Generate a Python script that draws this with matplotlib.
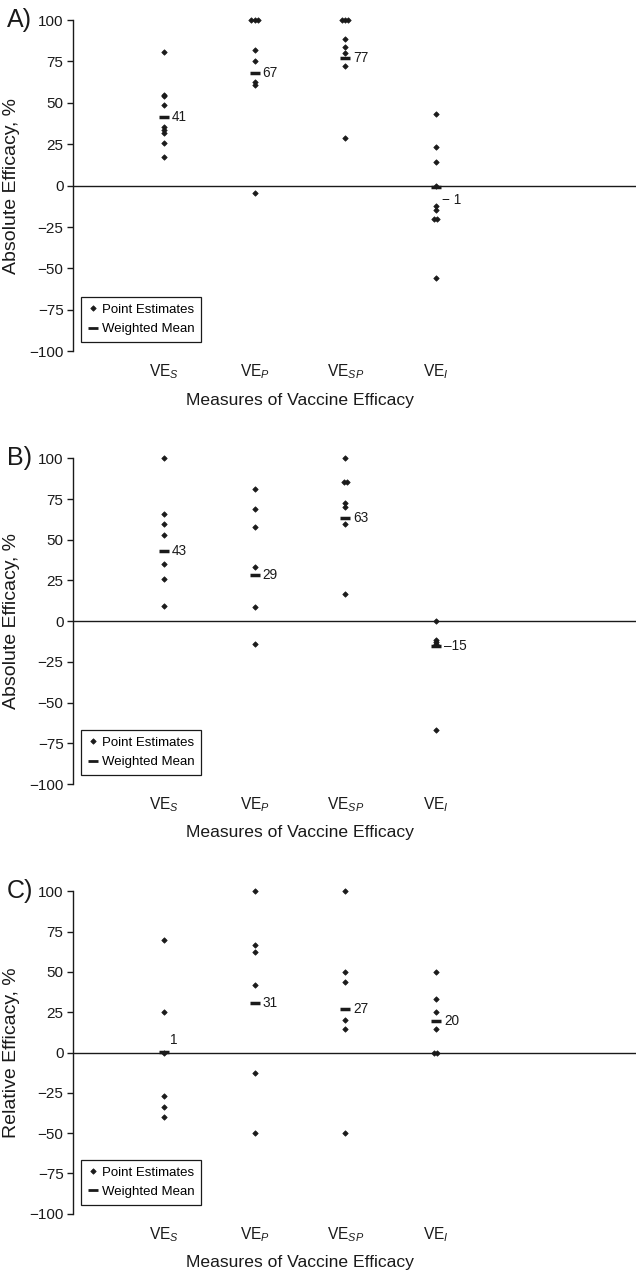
import matplotlib
matplotlib.use("Agg")
import matplotlib.pyplot as plt
from matplotlib.lines import Line2D
from matplotlib.transforms import blended_transform_factory
from collections import Counter

plt.rcParams['font.family'] = ['Liberation Sans', 'DejaVu Sans']
plt.rcParams['mathtext.fontset'] = 'custom'
plt.rcParams['mathtext.rm'] = 'Liberation Sans'
plt.rcParams['mathtext.it'] = 'Liberation Sans:italic'

# ---------------- data ----------------
categories = ['VE$_{\\mathit{S}}$', 'VE$_{\\mathit{P}}$', 'VE$_{\\mathit{SP}}$', 'VE$_{\\mathit{I}}$']
y_ticks = [-100, -75, -50, -25, 0, 25, 50, 75, 100]
y_tick_labels = ['\u2212100', '\u221275', '\u221250', '\u221225', '0', '25', '50', '75', '100']

# Panel A: absolute efficacy
a_ves = [80.7, 55, 54, 48.7, 35.4, 33.6, 31.6, 26, 17.1]
a_vep = [100, 100, 100, 82, 75, 62.4, 61, -4.2]
a_vesp = [100, 100, 100, 88.5, 83.7, 80.3, 72, 28.8]
a_vei = [43.5, 23.3, 14.3, 0, -12, -14.4, -20, -20, -55.6]
a_means = [41.2, 67.8, 77, -1]
a_mean_labels = ['41', '67', '77', '\u2212 1']

# Panel B: absolute efficacy
b_ves = [100, 65.6, 59.8, 52.7, 34.8, 25.6, 9]
b_vep = [80.9, 68.8, 57.9, 33.3, 8.8, -14.3]
b_vesp = [100, 85.6, 85.6, 72.7, 70.3, 59.8, 16.6]
b_vei = [0, -11.5, -12.9, -14.3, -66.8]
b_means = [43.2, 28.6, 63.1, -15.2]
b_mean_labels = ['43', '29', '63', '\u201315']

# Panel C: relative efficacy
c_ves = [70, 25, 0, -27, -33.5, -40]
c_vep = [100, 66.9, 62.6, 41.7, -12.6, -50]
c_vesp = [100, 50, 43.8, 20, 14.3, -50]
c_vei = [50, 33.3, 25, 14.3, 0, 0]
c_means = [0.6, 30.6, 26.9, 19.6]
c_mean_labels = ['1', '31', '27', '20']

panels = [
    dict(tag='A)', ylabel='Absolute Efficacy, %', groups=[a_ves, a_vep, a_vesp, a_vei],
         means=a_means, labels=a_mean_labels, rect=(20, 351.3),
         label_dy={3: -7.5}),
    dict(tag='B)', ylabel='Absolute Efficacy, %', groups=[b_ves, b_vep, b_vesp, b_vei],
         means=b_means, labels=b_mean_labels, rect=(458.3, 784.0),
         label_dy={}),
    dict(tag='C)', ylabel='Relative Efficacy, %', groups=[c_ves, c_vep, c_vesp, c_vei],
         means=c_means, labels=c_mean_labels, rect=(891.3, 1213.7),
         label_dy={0: 7}),
]

W, H = 636, 1277
fig = plt.figure(figsize=(W / 100, H / 100), dpi=100)
ink = '#1a1a1a'

ax_left_px = 73.3
for p in panels:
    top_px, bot_px = p['rect']
    ax = fig.add_axes([ax_left_px / W, 1 - bot_px / H, 1 - ax_left_px / W, (bot_px - top_px) / H])
    ax.set_xlim(0, 6.21)
    ax.set_ylim(-100, 100)
    for s in ['top', 'right', 'bottom']:
        ax.spines[s].set_visible(False)
    ax.spines['left'].set_linewidth(1.0)
    ax.spines['left'].set_color(ink)
    ax.axhline(0, color=ink, lw=1.0, zorder=1)

    # points (exact duplicates spread slightly sideways)
    for i, vals in enumerate(p['groups']):
        cnt = Counter(vals)
        seen = Counter()
        xs = []
        for v in vals:
            n = cnt[v]
            k = seen[v]
            seen[v] += 1
            xs.append(i + 1 + (k - (n - 1) / 2) * 0.035)
        ax.plot(xs, vals, linestyle='none', marker='D', ms=2.8, mew=0.5,
                color=ink, zorder=3, clip_on=False)

    # weighted means
    cats_x = [i + 1 for i in range(len(p['means']))]
    ax.plot(cats_x, p['means'], linestyle='none', marker='_', ms=7, mew=2.5,
            color=ink, zorder=4, clip_on=False)
    for i, (m, lab) in enumerate(zip(p['means'], p['labels'])):
        dy = p['label_dy'].get(i, 0)
        dx = 0.09 if dy == 0 else 0.07
        ax.text(i + 1 + dx, m + dy, lab, ha='left', va='center',
                fontsize=9.8, color=ink)

    ax.set_yticks(y_ticks)
    ax.set_yticklabels(y_tick_labels)
    ax.tick_params(axis='y', length=4.5, width=1.0, pad=2.5, labelsize=11,
                   colors=ink, direction='out')
    ax.set_xticks(cats_x)
    ax.set_xticklabels(categories)
    ax.tick_params(axis='x', length=0, pad=8, labelsize=11.2, colors=ink)

    ax.set_ylabel(p['ylabel'], fontsize=14, color=ink)
    ax.yaxis.set_label_coords((20 - ax_left_px) / (W - ax_left_px), 0.5)

    tr = blended_transform_factory(ax.transData, ax.transAxes)
    ax.text(2.5, -49 / (bot_px - top_px), 'Measures of Vaccine Efficacy',
            transform=tr, ha='center', va='center', fontsize=12.6, color=ink)

    ax.text((7 - ax_left_px) / (W - ax_left_px), 1.0, p['tag'], transform=ax.transAxes,
            ha='left', va='center', fontsize=18, color=ink)

    handles = [
        Line2D([], [], linestyle='none', marker='D', ms=2.8, mew=0.5, color=ink),
        Line2D([], [], linestyle='none', marker='_', ms=7, mew=2.0, color=ink),
    ]
    leg = ax.legend(handles, ['Point Estimates', 'Weighted Mean'],
                    loc='lower left', bbox_to_anchor=(0.0137, 0.028),
                    fontsize=9.5, frameon=True, fancybox=False, framealpha=1,
                    edgecolor=ink, handlelength=0.8, handletextpad=0.3,
                    borderpad=0.5, labelspacing=0.55, borderaxespad=0)
    leg.get_frame().set_linewidth(0.9)

fig.savefig('out.png', dpi=100)
